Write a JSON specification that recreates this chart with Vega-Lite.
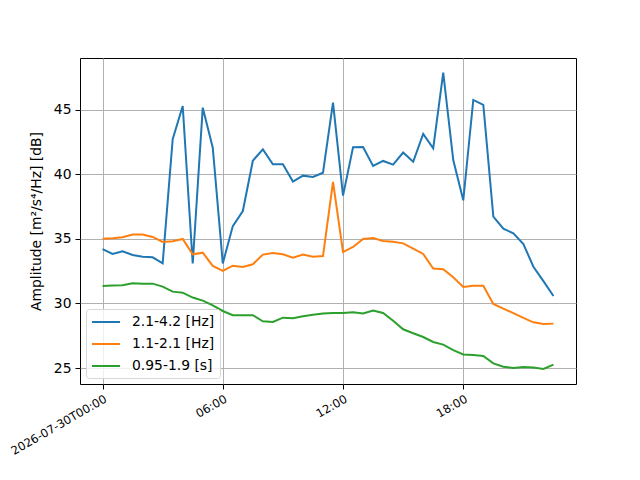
{
  "$schema": "https://vega.github.io/schema/vega-lite/v6.json",
  "width": 496,
  "height": 326,
  "autosize": "none",
  "padding": {"left": 80, "top": 58, "right": 64, "bottom": 96},
  "background": "white",
  "datasets": {
    "amp": [
      {"t": "2026-07-30T00:00", "band": "2.1-4.2 [Hz]", "amp": 34.22},
      {"t": "2026-07-30T00:30", "band": "2.1-4.2 [Hz]", "amp": 33.84},
      {"t": "2026-07-30T01:00", "band": "2.1-4.2 [Hz]", "amp": 34.05},
      {"t": "2026-07-30T01:30", "band": "2.1-4.2 [Hz]", "amp": 33.76},
      {"t": "2026-07-30T02:00", "band": "2.1-4.2 [Hz]", "amp": 33.63},
      {"t": "2026-07-30T02:30", "band": "2.1-4.2 [Hz]", "amp": 33.58},
      {"t": "2026-07-30T03:00", "band": "2.1-4.2 [Hz]", "amp": 33.11},
      {"t": "2026-07-30T03:30", "band": "2.1-4.2 [Hz]", "amp": 42.73},
      {"t": "2026-07-30T04:00", "band": "2.1-4.2 [Hz]", "amp": 45.31},
      {"t": "2026-07-30T04:30", "band": "2.1-4.2 [Hz]", "amp": 33.11},
      {"t": "2026-07-30T05:00", "band": "2.1-4.2 [Hz]", "amp": 45.18},
      {"t": "2026-07-30T05:30", "band": "2.1-4.2 [Hz]", "amp": 42.08},
      {"t": "2026-07-30T06:00", "band": "2.1-4.2 [Hz]", "amp": 33.11},
      {"t": "2026-07-30T06:30", "band": "2.1-4.2 [Hz]", "amp": 36.0},
      {"t": "2026-07-30T07:00", "band": "2.1-4.2 [Hz]", "amp": 37.17},
      {"t": "2026-07-30T07:30", "band": "2.1-4.2 [Hz]", "amp": 41.07},
      {"t": "2026-07-30T08:00", "band": "2.1-4.2 [Hz]", "amp": 41.95},
      {"t": "2026-07-30T08:30", "band": "2.1-4.2 [Hz]", "amp": 40.79},
      {"t": "2026-07-30T09:00", "band": "2.1-4.2 [Hz]", "amp": 40.79},
      {"t": "2026-07-30T09:30", "band": "2.1-4.2 [Hz]", "amp": 39.45},
      {"t": "2026-07-30T10:00", "band": "2.1-4.2 [Hz]", "amp": 39.91},
      {"t": "2026-07-30T10:30", "band": "2.1-4.2 [Hz]", "amp": 39.81},
      {"t": "2026-07-30T11:00", "band": "2.1-4.2 [Hz]", "amp": 40.14},
      {"t": "2026-07-30T11:30", "band": "2.1-4.2 [Hz]", "amp": 45.57},
      {"t": "2026-07-30T12:00", "band": "2.1-4.2 [Hz]", "amp": 38.36},
      {"t": "2026-07-30T12:30", "band": "2.1-4.2 [Hz]", "amp": 42.11},
      {"t": "2026-07-30T13:00", "band": "2.1-4.2 [Hz]", "amp": 42.13},
      {"t": "2026-07-30T13:30", "band": "2.1-4.2 [Hz]", "amp": 40.66},
      {"t": "2026-07-30T14:00", "band": "2.1-4.2 [Hz]", "amp": 41.05},
      {"t": "2026-07-30T14:30", "band": "2.1-4.2 [Hz]", "amp": 40.76},
      {"t": "2026-07-30T15:00", "band": "2.1-4.2 [Hz]", "amp": 41.7},
      {"t": "2026-07-30T15:30", "band": "2.1-4.2 [Hz]", "amp": 40.99},
      {"t": "2026-07-30T16:00", "band": "2.1-4.2 [Hz]", "amp": 43.14},
      {"t": "2026-07-30T16:30", "band": "2.1-4.2 [Hz]", "amp": 42.03},
      {"t": "2026-07-30T17:00", "band": "2.1-4.2 [Hz]", "amp": 47.9},
      {"t": "2026-07-30T17:30", "band": "2.1-4.2 [Hz]", "amp": 41.12},
      {"t": "2026-07-30T18:00", "band": "2.1-4.2 [Hz]", "amp": 38.0},
      {"t": "2026-07-30T18:30", "band": "2.1-4.2 [Hz]", "amp": 45.78},
      {"t": "2026-07-30T19:00", "band": "2.1-4.2 [Hz]", "amp": 45.39},
      {"t": "2026-07-30T19:30", "band": "2.1-4.2 [Hz]", "amp": 36.73},
      {"t": "2026-07-30T20:00", "band": "2.1-4.2 [Hz]", "amp": 35.8},
      {"t": "2026-07-30T20:30", "band": "2.1-4.2 [Hz]", "amp": 35.44},
      {"t": "2026-07-30T21:00", "band": "2.1-4.2 [Hz]", "amp": 34.61},
      {"t": "2026-07-30T21:30", "band": "2.1-4.2 [Hz]", "amp": 32.85},
      {"t": "2026-07-30T22:00", "band": "2.1-4.2 [Hz]", "amp": 31.74},
      {"t": "2026-07-30T22:30", "band": "2.1-4.2 [Hz]", "amp": 30.58},

      {"t": "2026-07-30T00:00", "band": "1.1-2.1 [Hz]", "amp": 35.02},
      {"t": "2026-07-30T00:30", "band": "1.1-2.1 [Hz]", "amp": 35.05},
      {"t": "2026-07-30T01:00", "band": "1.1-2.1 [Hz]", "amp": 35.13},
      {"t": "2026-07-30T01:30", "band": "1.1-2.1 [Hz]", "amp": 35.34},
      {"t": "2026-07-30T02:00", "band": "1.1-2.1 [Hz]", "amp": 35.34},
      {"t": "2026-07-30T02:30", "band": "1.1-2.1 [Hz]", "amp": 35.16},
      {"t": "2026-07-30T03:00", "band": "1.1-2.1 [Hz]", "amp": 34.77},
      {"t": "2026-07-30T03:30", "band": "1.1-2.1 [Hz]", "amp": 34.82},
      {"t": "2026-07-30T04:00", "band": "1.1-2.1 [Hz]", "amp": 35.0},
      {"t": "2026-07-30T04:30", "band": "1.1-2.1 [Hz]", "amp": 33.81},
      {"t": "2026-07-30T05:00", "band": "1.1-2.1 [Hz]", "amp": 33.94},
      {"t": "2026-07-30T05:30", "band": "1.1-2.1 [Hz]", "amp": 32.91},
      {"t": "2026-07-30T06:00", "band": "1.1-2.1 [Hz]", "amp": 32.52},
      {"t": "2026-07-30T06:30", "band": "1.1-2.1 [Hz]", "amp": 32.93},
      {"t": "2026-07-30T07:00", "band": "1.1-2.1 [Hz]", "amp": 32.83},
      {"t": "2026-07-30T07:30", "band": "1.1-2.1 [Hz]", "amp": 33.04},
      {"t": "2026-07-30T08:00", "band": "1.1-2.1 [Hz]", "amp": 33.79},
      {"t": "2026-07-30T08:30", "band": "1.1-2.1 [Hz]", "amp": 33.91},
      {"t": "2026-07-30T09:00", "band": "1.1-2.1 [Hz]", "amp": 33.81},
      {"t": "2026-07-30T09:30", "band": "1.1-2.1 [Hz]", "amp": 33.55},
      {"t": "2026-07-30T10:00", "band": "1.1-2.1 [Hz]", "amp": 33.79},
      {"t": "2026-07-30T10:30", "band": "1.1-2.1 [Hz]", "amp": 33.63},
      {"t": "2026-07-30T11:00", "band": "1.1-2.1 [Hz]", "amp": 33.68},
      {"t": "2026-07-30T11:30", "band": "1.1-2.1 [Hz]", "amp": 39.42},
      {"t": "2026-07-30T12:00", "band": "1.1-2.1 [Hz]", "amp": 33.99},
      {"t": "2026-07-30T12:30", "band": "1.1-2.1 [Hz]", "amp": 34.38},
      {"t": "2026-07-30T13:00", "band": "1.1-2.1 [Hz]", "amp": 35.0},
      {"t": "2026-07-30T13:30", "band": "1.1-2.1 [Hz]", "amp": 35.08},
      {"t": "2026-07-30T14:00", "band": "1.1-2.1 [Hz]", "amp": 34.84},
      {"t": "2026-07-30T14:30", "band": "1.1-2.1 [Hz]", "amp": 34.79},
      {"t": "2026-07-30T15:00", "band": "1.1-2.1 [Hz]", "amp": 34.66},
      {"t": "2026-07-30T15:30", "band": "1.1-2.1 [Hz]", "amp": 34.25},
      {"t": "2026-07-30T16:00", "band": "1.1-2.1 [Hz]", "amp": 33.84},
      {"t": "2026-07-30T16:30", "band": "1.1-2.1 [Hz]", "amp": 32.71},
      {"t": "2026-07-30T17:00", "band": "1.1-2.1 [Hz]", "amp": 32.66},
      {"t": "2026-07-30T17:30", "band": "1.1-2.1 [Hz]", "amp": 32.03},
      {"t": "2026-07-30T18:00", "band": "1.1-2.1 [Hz]", "amp": 31.28},
      {"t": "2026-07-30T18:30", "band": "1.1-2.1 [Hz]", "amp": 31.38},
      {"t": "2026-07-30T19:00", "band": "1.1-2.1 [Hz]", "amp": 31.38},
      {"t": "2026-07-30T19:30", "band": "1.1-2.1 [Hz]", "amp": 29.96},
      {"t": "2026-07-30T20:00", "band": "1.1-2.1 [Hz]", "amp": 29.6},
      {"t": "2026-07-30T20:30", "band": "1.1-2.1 [Hz]", "amp": 29.26},
      {"t": "2026-07-30T21:00", "band": "1.1-2.1 [Hz]", "amp": 28.88},
      {"t": "2026-07-30T21:30", "band": "1.1-2.1 [Hz]", "amp": 28.54},
      {"t": "2026-07-30T22:00", "band": "1.1-2.1 [Hz]", "amp": 28.41},
      {"t": "2026-07-30T22:30", "band": "1.1-2.1 [Hz]", "amp": 28.44},

      {"t": "2026-07-30T00:00", "band": "0.95-1.9 [s]", "amp": 31.36},
      {"t": "2026-07-30T00:30", "band": "0.95-1.9 [s]", "amp": 31.39},
      {"t": "2026-07-30T01:00", "band": "0.95-1.9 [s]", "amp": 31.41},
      {"t": "2026-07-30T01:30", "band": "0.95-1.9 [s]", "amp": 31.57},
      {"t": "2026-07-30T02:00", "band": "0.95-1.9 [s]", "amp": 31.54},
      {"t": "2026-07-30T02:30", "band": "0.95-1.9 [s]", "amp": 31.54},
      {"t": "2026-07-30T03:00", "band": "0.95-1.9 [s]", "amp": 31.31},
      {"t": "2026-07-30T03:30", "band": "0.95-1.9 [s]", "amp": 30.92},
      {"t": "2026-07-30T04:00", "band": "0.95-1.9 [s]", "amp": 30.84},
      {"t": "2026-07-30T04:30", "band": "0.95-1.9 [s]", "amp": 30.46},
      {"t": "2026-07-30T05:00", "band": "0.95-1.9 [s]", "amp": 30.22},
      {"t": "2026-07-30T05:30", "band": "0.95-1.9 [s]", "amp": 29.86},
      {"t": "2026-07-30T06:00", "band": "0.95-1.9 [s]", "amp": 29.42},
      {"t": "2026-07-30T06:30", "band": "0.95-1.9 [s]", "amp": 29.09},
      {"t": "2026-07-30T07:00", "band": "0.95-1.9 [s]", "amp": 29.09},
      {"t": "2026-07-30T07:30", "band": "0.95-1.9 [s]", "amp": 29.09},
      {"t": "2026-07-30T08:00", "band": "0.95-1.9 [s]", "amp": 28.62},
      {"t": "2026-07-30T08:30", "band": "0.95-1.9 [s]", "amp": 28.57},
      {"t": "2026-07-30T09:00", "band": "0.95-1.9 [s]", "amp": 28.9},
      {"t": "2026-07-30T09:30", "band": "0.95-1.9 [s]", "amp": 28.85},
      {"t": "2026-07-30T10:00", "band": "0.95-1.9 [s]", "amp": 29.01},
      {"t": "2026-07-30T10:30", "band": "0.95-1.9 [s]", "amp": 29.13},
      {"t": "2026-07-30T11:00", "band": "0.95-1.9 [s]", "amp": 29.22},
      {"t": "2026-07-30T11:30", "band": "0.95-1.9 [s]", "amp": 29.26},
      {"t": "2026-07-30T12:00", "band": "0.95-1.9 [s]", "amp": 29.26},
      {"t": "2026-07-30T12:30", "band": "0.95-1.9 [s]", "amp": 29.32},
      {"t": "2026-07-30T13:00", "band": "0.95-1.9 [s]", "amp": 29.22},
      {"t": "2026-07-30T13:30", "band": "0.95-1.9 [s]", "amp": 29.45},
      {"t": "2026-07-30T14:00", "band": "0.95-1.9 [s]", "amp": 29.26},
      {"t": "2026-07-30T14:30", "band": "0.95-1.9 [s]", "amp": 28.67},
      {"t": "2026-07-30T15:00", "band": "0.95-1.9 [s]", "amp": 28.0},
      {"t": "2026-07-30T15:30", "band": "0.95-1.9 [s]", "amp": 27.69},
      {"t": "2026-07-30T16:00", "band": "0.95-1.9 [s]", "amp": 27.4},
      {"t": "2026-07-30T16:30", "band": "0.95-1.9 [s]", "amp": 27.02},
      {"t": "2026-07-30T17:00", "band": "0.95-1.9 [s]", "amp": 26.81},
      {"t": "2026-07-30T17:30", "band": "0.95-1.9 [s]", "amp": 26.38},
      {"t": "2026-07-30T18:00", "band": "0.95-1.9 [s]", "amp": 26.05},
      {"t": "2026-07-30T18:30", "band": "0.95-1.9 [s]", "amp": 26.0},
      {"t": "2026-07-30T19:00", "band": "0.95-1.9 [s]", "amp": 25.93},
      {"t": "2026-07-30T19:30", "band": "0.95-1.9 [s]", "amp": 25.36},
      {"t": "2026-07-30T20:00", "band": "0.95-1.9 [s]", "amp": 25.1},
      {"t": "2026-07-30T20:30", "band": "0.95-1.9 [s]", "amp": 25.0},
      {"t": "2026-07-30T21:00", "band": "0.95-1.9 [s]", "amp": 25.08},
      {"t": "2026-07-30T21:30", "band": "0.95-1.9 [s]", "amp": 25.03},
      {"t": "2026-07-30T22:00", "band": "0.95-1.9 [s]", "amp": 24.92},
      {"t": "2026-07-30T22:30", "band": "0.95-1.9 [s]", "amp": 25.26}
    ]
  },
  "data": {"name": "amp"},
  "mark": {"type": "line", "strokeWidth": 2, "clip": true},
  "encoding": {
    "x": {
      "field": "t",
      "type": "temporal",
      "scale": {
        "domain": [
          {"year": 2026, "month": 7, "date": 29, "hours": 22, "minutes": 52, "seconds": 30},
          {"year": 2026, "month": 7, "date": 30, "hours": 23, "minutes": 37, "seconds": 30}
        ]
      },
      "axis": {
        "title": null,
        "values": [
          {"year": 2026, "month": 7, "date": 30, "hours": 0},
          {"year": 2026, "month": 7, "date": 30, "hours": 6},
          {"year": 2026, "month": 7, "date": 30, "hours": 12},
          {"year": 2026, "month": 7, "date": 30, "hours": 18}
        ],
        "labelExpr": "hours(datum.value) == 0 ? '2026-07-30T00:00' : timeFormat(datum.value, '%H:%M')",
        "labelAngle": -30,
        "labelAlign": "right",
        "labelBaseline": "top",
        "labelFontSize": 11.6,
        "labelPadding": 4,
        "labelDx": -5,
        "labelOverlap": false,
        "labelFlush": false
      }
    },
    "y": {
      "field": "amp",
      "type": "quantitative",
      "scale": {"domain": [23.76, 49.03], "nice": false, "zero": false},
      "axis": {
        "title": "Amplitude [m²/s⁴/Hz] [dB]",
        "values": [25, 30, 35, 40, 45],
        "labelFontSize": 13.9,
        "labelPadding": 4,
        "titlePadding": 10
      }
    },
    "color": {
      "field": "band",
      "type": "nominal",
      "scale": {
        "domain": ["2.1-4.2 [Hz]", "1.1-2.1 [Hz]", "0.95-1.9 [s]"],
        "range": ["#1f77b4", "#ff7f0e", "#2ca02c"]
      },
      "legend": {
        "title": null,
        "orient": "bottom-left",
        "offset": 6,
        "symbolType": "M-1,0H3",
        "symbolSize": 196,
        "symbolStrokeWidth": 2,
        "labelFontSize": 13.9,
        "labelOffset": 25,
        "rowPadding": 7,
        "padding": 5,
        "strokeColor": "#d6d6d6",
        "fillColor": "rgba(255,255,255,0.8)",
        "cornerRadius": 3
      }
    }
  },
  "config": {
    "font": "DejaVu Sans",
    "view": {"stroke": "black", "strokeWidth": 1},
    "axis": {
      "labelFont": "DejaVu Sans",
      "titleFont": "DejaVu Sans",
      "labelColor": "black",
      "titleColor": "black",
      "titleFontWeight": "normal",
      "titleFontSize": 13.9,
      "domain": false,
      "tickColor": "black",
      "tickSize": 5,
      "tickWidth": 1,
      "grid": true,
      "gridColor": "#b0b0b0",
      "gridWidth": 1
    },
    "legend": {"labelFont": "DejaVu Sans", "labelColor": "black"}
  }
}
